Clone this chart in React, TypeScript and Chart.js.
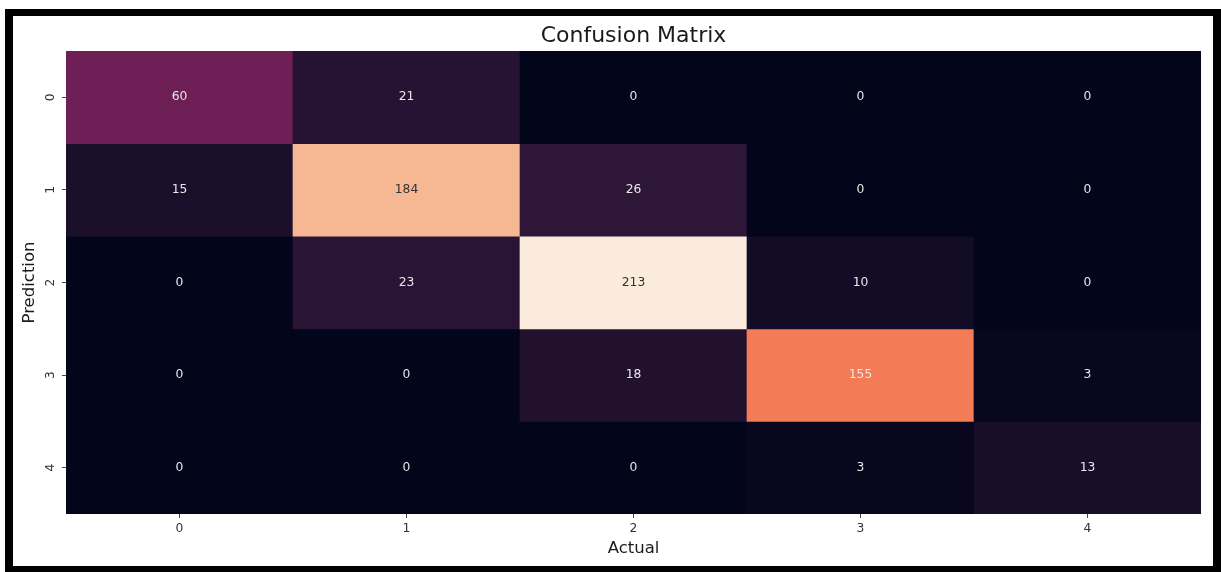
import React, { useEffect, useRef } from "react";
import { Chart, registerables } from "chart.js";

Chart.register(...registerables);

const actualLabels = ["0", "1", "2", "3", "4"];
const predictionLabels = ["0", "1", "2", "3", "4"];

const predRow0 = [60, 21, 0, 0, 0];
const predRow1 = [15, 184, 26, 0, 0];
const predRow2 = [0, 23, 213, 10, 0];
const predRow3 = [0, 0, 18, 155, 3];
const predRow4 = [0, 0, 0, 3, 13];

const matrixRows = [predRow0, predRow1, predRow2, predRow3, predRow4];

// seaborn "rocket" colormap anchors
const rocketStops: [number, number, number, number][] = [
  [0, 3, 5, 26],
  [1 / 7, 53, 25, 62],
  [2 / 7, 112, 31, 87],
  [3 / 7, 173, 23, 89],
  [4 / 7, 225, 51, 66],
  [5 / 7, 243, 118, 81],
  [6 / 7, 246, 180, 143],
  [1, 250, 235, 221],
];

function rocket(t: number): [number, number, number] {
  const v = Math.max(0, Math.min(1, t));
  for (let i = 1; i < rocketStops.length; i++) {
    const a = rocketStops[i - 1];
    const b = rocketStops[i];
    if (v <= b[0]) {
      const f = (v - a[0]) / (b[0] - a[0]);
      return [
        a[1] + (b[1] - a[1]) * f,
        a[2] + (b[2] - a[2]) * f,
        a[3] + (b[3] - a[3]) * f,
      ];
    }
  }
  const l = rocketStops[rocketStops.length - 1];
  return [l[1], l[2], l[3]];
}

function rgbStr(c: [number, number, number]) {
  return `rgb(${Math.round(c[0])},${Math.round(c[1])},${Math.round(c[2])})`;
}

function luminance(c: [number, number, number]) {
  const lin = (x: number) => {
    const s = x / 255;
    return s <= 0.03928 ? s / 12.92 : Math.pow((s + 0.055) / 1.055, 2.4);
  };
  return 0.2126 * lin(c[0]) + 0.7152 * lin(c[1]) + 0.0722 * lin(c[2]);
}

const FONT = "'DejaVu Sans', sans-serif";

export default function App() {
  const canvasRef = useRef<HTMLCanvasElement | null>(null);

  useEffect(() => {
    if (!canvasRef.current) return;
    const vmax = Math.max(...matrixRows.flat());
    const vmin = Math.min(...matrixRows.flat());

    const datasets = matrixRows.map((row, i) => ({
      label: predictionLabels[i],
      data: actualLabels.map((a) => ({ x: a, y: [i, i + 1] })),
      backgroundColor: row.map((v) => rgbStr(rocket((v - vmin) / (vmax - vmin)))),
      borderWidth: 0,
      grouped: false,
      categoryPercentage: 1,
      barPercentage: 1,
    }));

    const cellText = {
      id: "cellText",
      afterDatasetsDraw(chart: any) {
        const ctx = chart.ctx;
        ctx.save();
        ctx.font = `12.3px ${FONT}`;
        ctx.textAlign = "center";
        ctx.textBaseline = "middle";
        matrixRows.forEach((row, i) => {
          const meta = chart.getDatasetMeta(i);
          meta.data.forEach((el: any, j: number) => {
            const v = row[j];
            const col = rocket((v - vmin) / (vmax - vmin));
            ctx.fillStyle = luminance(col) > 0.408 ? "#333333" : "#e8e8e8";
            const cy = (el.y + el.base) / 2;
            ctx.fillText(String(v), el.x, cy);
          });
        });
        ctx.restore();
      },
    };

    const chart = new Chart(canvasRef.current, {
      type: "bar",
      data: { labels: actualLabels, datasets: datasets as any },
      options: {
        animation: false,
        responsive: false,
        layout: { padding: { left: 0, right: 12, top: 0, bottom: 0 } },
        plugins: {
          legend: { display: false },
          tooltip: { enabled: false },
          title: {
            display: true,
            text: "Confusion Matrix",
            fullSize: false,
            color: "#1a1a1a",
            font: { family: FONT, size: 22, weight: "normal", lineHeight: 1.2 },
            padding: { top: 7, bottom: 1.6 },
          },
        },
        scales: {
          x: {
            type: "category",
            offset: true,
            grid: {
              display: true,
              drawOnChartArea: false,
              drawTicks: true,
              tickLength: 4,
              offset: false,
              color: "#444",
            },
            border: { display: false },
            ticks: {
              color: "#333",
              font: { family: FONT, size: 12.3 },
              padding: 3,
              maxRotation: 0,
              minRotation: 0,
            },
            title: {
              display: true,
              text: "Actual",
              color: "#1a1a1a",
              font: { family: FONT, size: 16.5 },
              padding: { top: 7.6, bottom: 7.6 },
            },
            afterFit: (scale: any) => {
              scale.height = 52;
            },
          },
          y: {
            type: "linear",
            min: 0,
            max: 5,
            reverse: true,
            grid: {
              display: true,
              drawOnChartArea: false,
              drawTicks: true,
              tickLength: 4,
              color: "#444",
            },
            border: { display: false },
            afterBuildTicks: (scale: any) => {
              scale.ticks = predictionLabels.map((_, i) => ({ value: i + 0.5 }));
            },
            ticks: {
              color: "#333",
              font: { family: FONT, size: 12.3 },
              padding: 7,
              minRotation: 90,
              maxRotation: 90,
              crossAlign: "center",
              callback: (v: any) => predictionLabels[Math.floor(Number(v))],
            },
            title: {
              display: true,
              text: "Prediction",
              color: "#1a1a1a",
              font: { family: FONT, size: 16.5 },
              padding: { top: 7.1, bottom: 7.1 },
            },
            afterFit: (scale: any) => {
              scale.width = 53;
            },
          },
        },
      },
      plugins: [cellText],
    } as any);

    return () => chart.destroy();
  }, []);

  return (
    <div
      style={{
        position: "absolute",
        left: 5,
        top: 9,
        width: 1216,
        height: 563,
        background: "#000",
        boxSizing: "border-box",
        padding: "7px 8px 6px 8px",
      }}
    >
      <div style={{ width: 1200, height: 550, background: "#fff" }}>
        <canvas ref={canvasRef} width={1200} height={550} style={{ display: "block" }} />
      </div>
    </div>
  );
}
